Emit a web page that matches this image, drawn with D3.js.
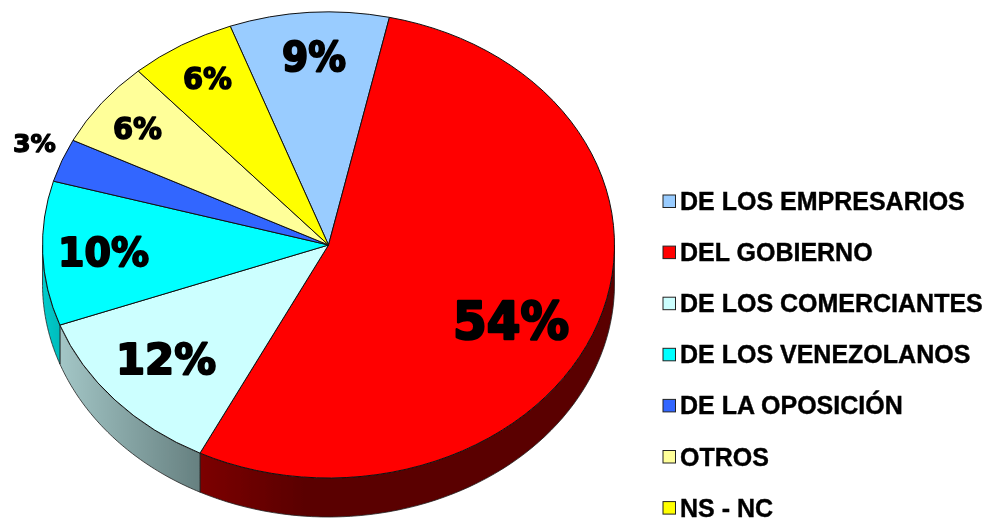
<!DOCTYPE html>
<html lang="es">
  <head>
    <meta charset="UTF-8" />
    <title>Pie</title>
    <style>
      html, body { margin: 0; background: #fff; }
      svg { display: block; }
      .pct { font-family: "DejaVu Sans", sans-serif; font-weight: bold; text-anchor: middle; fill: #000; stroke: #000; stroke-linejoin: round; }
      .leg { font-family: "Liberation Sans", Arial, sans-serif; font-weight: bold; font-size: 25px; fill: #000; stroke: #000; stroke-width: .4px; }
    </style>
  </head>
  <body>
    <div id="chart"></div>
    <script src="https://d3js.org/d3.v7.min.js"></script>
    <script>
      const categories = ["DE LOS EMPRESARIOS", "DEL GOBIERNO", "DE LOS COMERCIANTES", "DE LOS VENEZOLANOS", "DE LA OPOSICIÓN", "OTROS", "NS - NC"];
      const values = [9, 54, 12, 10, 3, 6, 6];
      const colors = ["#99ccff", "#ff0000", "#ccffff", "#00ffff", "#3366ff", "#ffff99", "#ffff00"];
      const sideLeft = ["#6b8fb0", "#7c0000", "#a3c6c6", "#00cccc", "#2a50c0", "#b0b070", "#b0b000"];
      const sideRight = ["#6b8fb0", "#5a0000", "#668080", "#00bcbc", "#2a50c0", "#b0b070", "#b0b000"];
      const sideStop = [1, 0.25, 1, 1, 1, 1, 1];

      const w = 986, h = 518;
      const cx = 328.5, cy = 245, rx = 286, ry = 233, depth = 39;
      const startDeg = -20.1;

      // label centre x, baseline y, font size, ink width, as placed in the picture
      const labelPos = [[314, 71, 40, 64], [511, 339, 51, 116], [166, 374, 43, 100], [103.5, 266, 39, 91], [34.5, 152, 25, 43], [137.5, 139, 30, 49], [207.5, 89, 30, 49]];
      const legendY = 201, legendStep = 51.1;

      const svg = d3.select("#chart").append("svg").attr("width", w).attr("height", h);
      const defs = svg.append("defs");
      defs.append("filter").attr("id", "soft")
        .attr("filterUnits", "userSpaceOnUse")
        .attr("x", 0).attr("y", 0).attr("width", w).attr("height", h)
        .append("feGaussianBlur").attr("stdDeviation", 0.45);
      const root = svg.append("g").attr("filter", "url(#soft)");

      const pie = d3.pie().sort(null).value(d => d)
        .startAngle(startDeg * Math.PI / 180)
        .endAngle((startDeg + 360) * Math.PI / 180);
      const arcs = pie(values);

      const pt = (a, dy) => [cx + rx * Math.sin(a), cy - ry * Math.cos(a) + dy];

      // side wall, only the part of each slice on the front half of the ellipse
      const wall = root.append("g");
      arcs.forEach((d, i) => {
        const a0 = Math.max(d.startAngle, Math.PI / 2);
        const a1 = Math.min(d.endAngle, 3 * Math.PI / 2);
        if (a1 <= a0) return;
        const steps = d3.range(0, 61).map(k => a0 + (a1 - a0) * k / 60);
        const top = steps.map(a => pt(a, 0));
        const bottom = steps.slice().reverse().map(a => pt(a, depth));
        const xs = top.map(p => p[0]);
        const grad = defs.append("linearGradient").attr("id", "side" + i)
          .attr("gradientUnits", "userSpaceOnUse")
          .attr("x1", d3.min(xs)).attr("x2", d3.max(xs)).attr("y1", 0).attr("y2", 0);
        grad.append("stop").attr("offset", 0).attr("stop-color", sideLeft[i]);
        grad.append("stop").attr("offset", sideStop[i]).attr("stop-color", sideRight[i]);
        wall.append("path")
          .attr("d", d3.line()(top.concat(bottom)) + "Z")
          .attr("fill", "url(#side" + i + ")")
          .attr("stroke", "#222").attr("stroke-width", 0.8);
      });

      // top face
      const arc = d3.arc().innerRadius(0).outerRadius(rx);
      root.append("g")
        .attr("transform", `translate(${cx},${cy}) scale(1,${ry / rx})`)
        .selectAll("path").data(arcs).enter().append("path")
        .attr("d", arc)
        .attr("fill", (d, i) => colors[i])
        .attr("stroke", "#111")
        .attr("stroke-width", 1)
        .attr("vector-effect", "non-scaling-stroke");

      root.selectAll("text.pct").data(values).enter().append("text")
        .attr("class", "pct")
        .attr("x", (d, i) => labelPos[i][0])
        .attr("y", (d, i) => labelPos[i][1])
        .attr("font-size", (d, i) => labelPos[i][2])
        .attr("stroke-width", (d, i) => labelPos[i][2] * 0.05)
        .attr("textLength", (d, i) => labelPos[i][3])
        .attr("lengthAdjust", "spacingAndGlyphs")
        .text(d => d + "%");

      // legend
      const leg = root.selectAll("g.item").data(categories).enter().append("g")
        .attr("class", "item")
        .attr("transform", (d, i) => `translate(663,${legendY + i * legendStep})`);
      leg.append("rect")
        .attr("x", 0).attr("y", -6).attr("width", 12.5).attr("height", 12.5)
        .attr("fill", (d, i) => colors[i])
        .attr("stroke", "#222").attr("stroke-width", 1);
      leg.append("text")
        .attr("class", "leg")
        .attr("x", 17).attr("y", 9)
        .text(d => d);
    </script>
  </body>
</html>
